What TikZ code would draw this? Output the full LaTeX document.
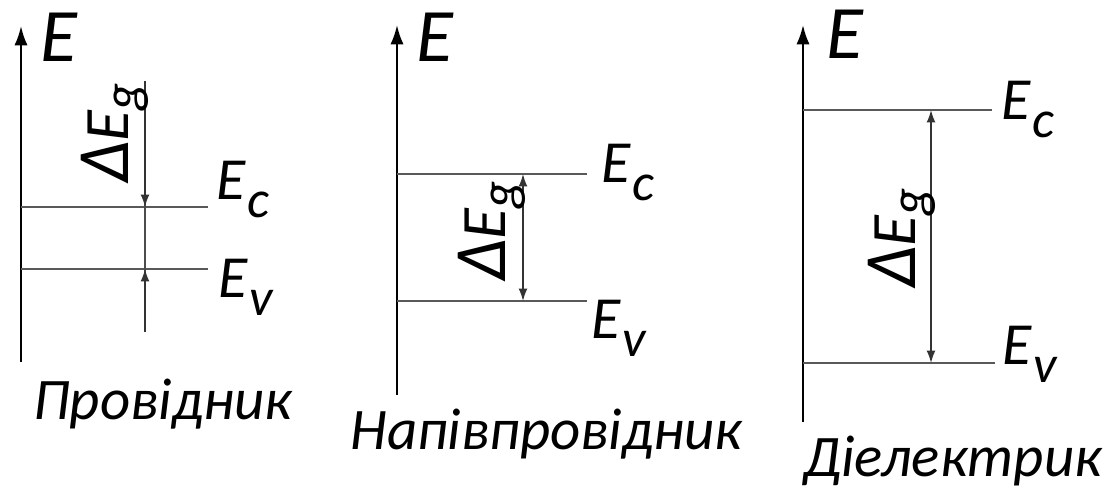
\documentclass[tikz,border=0pt]{standalone}
\usepackage{fontspec}
\setmainfont{Carlito}
\usetikzlibrary{arrows.meta}

\tikzset{
  axis/.style={line width=1.3pt, -{Latex[length=11pt,width=7.5pt]}},
  bandline/.style={line width=0.9pt, black!65},
  gapline/.style={line width=0.8pt, black!70},
  gaparrow/.style={line width=0.8pt, black!80, {Latex[length=7pt,width=5pt]}-{Latex[length=7pt,width=5pt]}},
  onearrow/.style={line width=0.8pt, black!80, -{Latex[length=7pt,width=5pt]}},
  axlabel/.style={inner sep=0pt, anchor=base west, font=\itshape\fontsize{43}{43}\selectfont},
  lvlabel/.style={inner sep=0pt, anchor=base west, font=\itshape\fontsize{34}{34}\selectfont},
  gaplabel/.style={inner sep=0pt, rotate=90, font=\itshape\fontsize{36}{36}\selectfont},
  captlabel/.style={inner sep=0pt, anchor=base west, font=\itshape\fontsize{33.5}{33.5}\selectfont}
}
\newcommand{\lv}[1]{E\kern1pt\raisebox{-0.62ex}{\fontsize{30}{30}\selectfont #1}}
\newcommand{\dEg}{{\fontsize{42}{42}\selectfont Δ}E\raisebox{-0.38ex}{\fontsize{30}{30}\selectfont g}}

\begin{document}
\begin{tikzpicture}[x=0.02cm, y=-0.02cm]
  \useasboundingbox (0,0) rectangle (1111,492);

  % --- Провідник ---
  \coordinate (a1b) at (21,362);
  \coordinate (a1t) at (21,26);
  \draw[axis] (a1b) -- (a1t);
  \node[axlabel] (e1) at (40,62) {E};
  \coordinate (c1l) at (21,207);  \coordinate (c1r) at (208,207);
  \coordinate (v1l) at (21,269);  \coordinate (v1r) at (208,269);
  \draw[bandline] (c1l) -- (c1r);
  \draw[bandline] (v1l) -- (v1r);
  \coordinate (g1t) at (145,81);  \coordinate (g1b) at (145,332);
  \coordinate (g1c) at (145,207); \coordinate (g1v) at (145,269);
  \draw[gapline] (g1t) -- (g1b);
  \draw[onearrow] (g1t) -- (g1c);
  \draw[onearrow] (g1b) -- (g1v);
  \node[gaplabel, anchor=base] (d1) at (128,133) {\dEg};
  \node[lvlabel] (ec1) at (216,200) {\lv{c}};
  \node[lvlabel] (ev1) at (218,298) {\lv{v}};
  \node[captlabel] (n1) at (33,420) {Провідник};

  % --- Напівпровідник ---
  \coordinate (a2b) at (397,395);
  \coordinate (a2t) at (397,25);
  \draw[axis] (a2b) -- (a2t);
  \node[axlabel] (e2) at (416,62) {E};
  \coordinate (c2l) at (397,174);  \coordinate (c2r) at (587,174);
  \coordinate (v2l) at (397,301);  \coordinate (v2r) at (587,301);
  \draw[bandline] (c2l) -- (c2r);
  \draw[bandline] (v2l) -- (v2r);
  \coordinate (g2c) at (523,174); \coordinate (g2v) at (523,301);
  \draw[gaparrow] (g2v) -- (g2c);
  \node[gaplabel, anchor=base] (d2) at (505,231) {\dEg};
  \node[lvlabel] (ec2) at (601,183) {\lv{c}};
  \node[lvlabel] (ev2) at (591,339) {\lv{v}};
  \node[captlabel] (n2) at (350,450) {Напівпровідник};

  % --- Діелектрик ---
  \coordinate (a3b) at (803,422);
  \coordinate (a3t) at (803,25);
  \draw[axis] (a3b) -- (a3t);
  \node[axlabel] (e3) at (826,59) {E};
  \coordinate (c3l) at (803,110);  \coordinate (c3r) at (992,110);
  \coordinate (v3l) at (803,363);  \coordinate (v3r) at (995,363);
  \draw[bandline] (c3l) -- (c3r);
  \draw[bandline] (v3l) -- (v3r);
  \coordinate (g3c) at (931,110); \coordinate (g3v) at (931,363);
  \draw[gaparrow] (g3v) -- (g3c);
  \node[gaplabel, anchor=base] (d3) at (915,238) {\dEg};
  \node[lvlabel] (ec3) at (1001,120) {\lv{c}};
  \node[lvlabel] (ev3) at (1002,365) {\lv{v}};
  \node[captlabel] (n3) at (803,477) {Діелектрик};
\end{tikzpicture}
\end{document}
